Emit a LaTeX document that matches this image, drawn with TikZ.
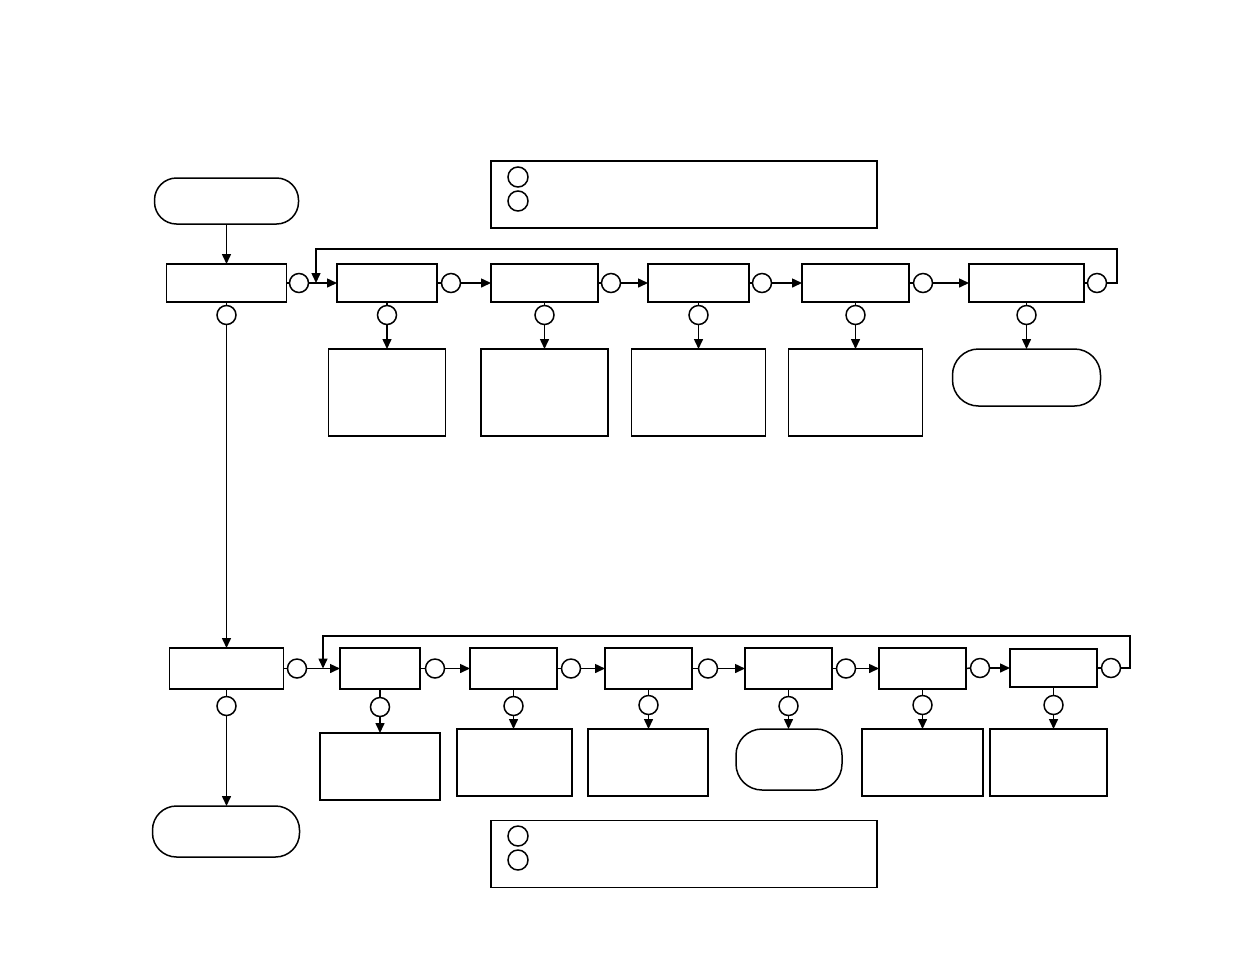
\documentclass[tikz,border=0pt]{standalone}
\usepackage{tikz}
\usetikzlibrary{arrows.meta, positioning, calc}
\tikzset{
  basebox/.style={rectangle, draw=black, line width=0.75pt, inner sep=0pt, outer sep=0pt},
  procbox/.style={basebox, minimum height=19pt},
  lowbox/.style={basebox, minimum height=20.5pt},
  notebox/.style={basebox, minimum height=43.5pt},
  smallnote/.style={basebox, minimum height=33.5pt},
  termbox/.style={basebox, rounded corners=11pt},
  legendbox/.style={basebox, minimum width=193pt, minimum height=33.5pt},
  connector/.style={circle, draw=black, line width=0.75pt, minimum size=9.5pt, inner sep=0pt, outer sep=0pt},
  legendmark/.style={connector, minimum size=10pt},
  plainline/.style={line width=0.75pt},
  arrow/.style={-{Triangle[length=5pt,width=4.5pt]}, line width=0.75pt}
}
\begin{document}
\begin{tikzpicture}[x=0.5pt, y=-0.5pt]
  \useasboundingbox (0,0) rectangle (1235,954);

  % upper chain
  \node[termbox, minimum width=72pt, minimum height=23pt] (start) at (226.5,201) {};
  \node[procbox, minimum width=60pt] (p1) at (226.5,283) {};
  \node[connector] (k1) at (299,283) {};
  \node[procbox, minimum width=50pt] (p2) at (387,283) {};
  \node[connector] (k2) at (451,283) {};
  \node[procbox, minimum width=53.5pt] (p3) at (544.5,283) {};
  \node[connector] (k3) at (611,283) {};
  \node[procbox, minimum width=50.5pt] (p4) at (698.5,283) {};
  \node[connector] (k4) at (762,283) {};
  \node[procbox, minimum width=53.5pt] (p5) at (855.5,283) {};
  \node[connector] (k5) at (923,283) {};
  \node[procbox, minimum width=57.5pt] (p6) at (1026.5,283) {};
  \node[connector] (k6) at (1097,283) {};

  \node[connector] (d1) at (226.5,315) {};
  \node[connector] (d2) at (387,315) {};
  \node[connector] (d3) at (544.5,315) {};
  \node[connector] (d4) at (698.5,315) {};
  \node[connector] (d5) at (855.5,315) {};
  \node[connector] (d6) at (1026.5,315) {};

  \node[notebox, minimum width=58.5pt] (r2) at (387,392.5) {};
  \node[notebox, minimum width=63.5pt] (r3) at (544.5,392.5) {};
  \node[notebox, minimum width=67pt] (r4) at (698.5,392.5) {};
  \node[notebox, minimum width=67pt] (r5) at (855.5,392.5) {};
  \node[termbox, minimum width=74pt, minimum height=28.5pt, rounded corners=13pt] (r6) at (1026.5,377.5) {};

  \coordinate (loop1) at (1117,249);
  \coordinate (ret1) at (316,283);

  % upper legend
  \node[legendbox] (key1) at (684,194.5) {};
  \node[legendmark] (key1a) at (518,177) {};
  \node[legendmark] (key1b) at (518,201) {};

  % lower chain
  \node[lowbox, minimum width=57pt] (q1) at (226.5,668.5) {};
  \node[connector] (m1) at (297,668.5) {};
  \node[lowbox, minimum width=40pt] (q2) at (380,668.5) {};
  \node[connector] (m2) at (435,668.5) {};
  \node[lowbox, minimum width=43.5pt] (q3) at (513.5,668.5) {};
  \node[connector] (m3) at (571,668.5) {};
  \node[lowbox, minimum width=43.5pt] (q4) at (648.5,668.5) {};
  \node[connector] (m4) at (708,668.5) {};
  \node[lowbox, minimum width=43.5pt] (q5) at (788.5,668.5) {};
  \node[connector] (m5) at (846,668.5) {};
  \node[lowbox, minimum width=43.5pt] (q6) at (922.5,668.5) {};
  \node[connector] (m6) at (980,668) {};
  \node[procbox, minimum width=43.5pt] (q7) at (1053.5,668) {};
  \node[connector] (m7) at (1111,668) {};

  \node[connector] (n1) at (226.5,706) {};
  \node[connector] (n2) at (380,707) {};
  \node[connector] (n3) at (513.5,706) {};
  \node[connector] (n4) at (648.5,705) {};
  \node[connector] (n5) at (788.5,706) {};
  \node[connector] (n6) at (922.5,705) {};
  \node[connector] (n7) at (1053.5,705) {};

  \node[smallnote, minimum width=60pt] (s2) at (380,766.5) {};
  \node[smallnote, minimum width=57.5pt] (s3) at (514.5,762.5) {};
  \node[smallnote, minimum width=60pt] (s4) at (648,762.5) {};
  \node[termbox, minimum width=53pt, minimum height=30.5pt, rounded corners=13pt] (s5) at (789,759.5) {};
  \node[smallnote, minimum width=60.5pt] (s6) at (922.5,762.5) {};
  \node[smallnote, minimum width=58.5pt] (s7) at (1048.5,762.5) {};
  \node[termbox, minimum width=73.5pt, minimum height=25.5pt, rounded corners=12pt] (stop) at (226,831.5) {};

  \coordinate (loop2) at (1130,636);
  \coordinate (ret2) at (323,668.5);

  % lower legend
  \node[legendbox] (key2) at (684,854) {};
  \node[legendmark] (key2a) at (518,836) {};
  \node[legendmark] (key2b) at (518,860) {};

  % upper connectors
  \draw[arrow] (start.south) -- (start.south |- p1.north);
  \draw[plainline] (p1.east) -- (k1.west);
  \draw[arrow] (k1.east) -- (p2.west);
  \draw[plainline] (p2.east) -- (k2.west);
  \draw[arrow] (k2.east) -- (p3.west);
  \draw[plainline] (p3.east) -- (k3.west);
  \draw[arrow] (k3.east) -- (p4.west);
  \draw[plainline] (p4.east) -- (k4.west);
  \draw[arrow] (k4.east) -- (p5.west);
  \draw[plainline] (p5.east) -- (k5.west);
  \draw[arrow] (k5.east) -- (p6.west);
  \draw[plainline] (p6.east) -- (k6.west);
  \draw[arrow] (k6.east) -| (loop1) -| (ret1);
  \draw[plainline] (p1.south) -- (d1.north);
  \draw[arrow] (d1.south) -- (d1.south |- q1.north);
  \draw[plainline] (p2.south) -- (d2.north);
  \draw[arrow] (d2.south) -- (d2.south |- r2.north);
  \draw[plainline] (p3.south) -- (d3.north);
  \draw[arrow] (d3.south) -- (d3.south |- r3.north);
  \draw[plainline] (p4.south) -- (d4.north);
  \draw[arrow] (d4.south) -- (d4.south |- r4.north);
  \draw[plainline] (p5.south) -- (d5.north);
  \draw[arrow] (d5.south) -- (d5.south |- r5.north);
  \draw[plainline] (p6.south) -- (d6.north);
  \draw[arrow] (d6.south) -- (d6.south |- r6.north);

  % lower connectors
  \draw[plainline] (q1.east) -- (m1.west);
  \draw[arrow] (m1.east) -- (q2.west);
  \draw[plainline] (q2.east) -- (m2.west);
  \draw[arrow] (m2.east) -- (q3.west);
  \draw[plainline] (q3.east) -- (m3.west);
  \draw[arrow] (m3.east) -- (q4.west);
  \draw[plainline] (q4.east) -- (m4.west);
  \draw[arrow] (m4.east) -- (q5.west);
  \draw[plainline] (q5.east) -- (m5.west);
  \draw[arrow] (m5.east) -- (q6.west);
  \draw[plainline] (q6.east) -- (m6.west);
  \draw[arrow] (m6.east) -- (q7.west);
  \draw[plainline] (q7.east) -- (m7.west);
  \draw[arrow] (m7.east) -| (loop2) -| (ret2);
  \draw[plainline] (q1.south) -- (n1.north);
  \draw[arrow] (n1.south) -- (n1.south |- stop.north);
  \draw[plainline] (q2.south) -- (n2.north);
  \draw[arrow] (n2.south) -- (n2.south |- s2.north);
  \draw[plainline] (q3.south) -- (n3.north);
  \draw[arrow] (n3.south) -- (n3.south |- s3.north);
  \draw[plainline] (q4.south) -- (n4.north);
  \draw[arrow] (n4.south) -- (n4.south |- s4.north);
  \draw[plainline] (q5.south) -- (n5.north);
  \draw[arrow] (n5.south) -- (n5.south |- s5.north);
  \draw[plainline] (q6.south) -- (n6.north);
  \draw[arrow] (n6.south) -- (n6.south |- s6.north);
  \draw[plainline] (q7.south) -- (n7.north);
  \draw[arrow] (n7.south) -- (n7.south |- s7.north);
\end{tikzpicture}
\end{document}
